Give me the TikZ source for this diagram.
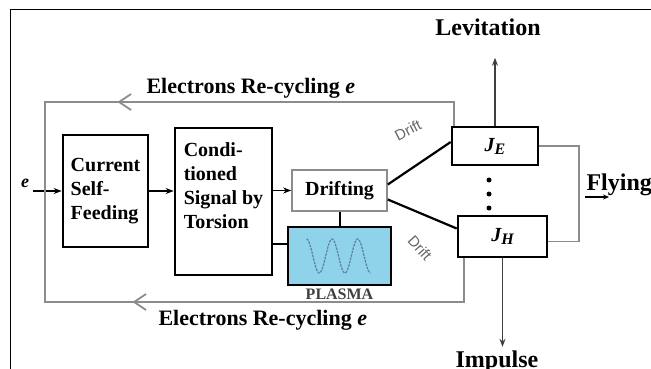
\documentclass[tikz,border=0pt]{standalone}
\usepackage{fontspec}
\setmainfont{Liberation Serif}
\setsansfont{Liberation Sans}
\usetikzlibrary{positioning, arrows.meta, calc, decorations.markings}
\definecolor{loopgray}{HTML}{8C8C8C}
\definecolor{plasmablue}{HTML}{8FD3EA}
\definecolor{wavegray}{HTML}{5F7F9F}

\begin{document}
\begin{tikzpicture}[x=1pt, y=-1pt, font=\fontsize{20}{24}\selectfont\bfseries, >={Stealth[length=8pt, width=6pt]}]

    % --- Stile ---
    \tikzset{
        block/.style={rectangle, draw=black, line width=2.6pt, align=left, inner sep=0pt},
        grayblock/.style={rectangle, draw=loopgray, line width=1.6pt, inner sep=0pt},
        plasmablock/.style={block, fill=plasmablue},
        jblock/.style={block, align=center},
        recycle/.style={draw=loopgray, line width=1.8pt},
        barb/.style={postaction={decorate, decoration={markings, mark=at position #1 with {\arrow{Straight Barb[length=12pt, width=16pt]}}}}},
        feed/.style={->, line width=1.6pt},
        drifttext/.style={font=\sffamily\mdseries\fontsize{15}{15}\selectfont, text=black!60},
        biglabel/.style={font=\fontsize{24}{28}\selectfont\bfseries},
        outarrow/.style={->, draw=darkgray, line width=1.3pt}
    }

    \useasboundingbox (0,0) rectangle (651,369);

    % --- Rahmen ---
    \draw[line width=0.8pt] (10,369) -- (10,9) -- (651,9);

    % --- Blöcke ---
    \node[block, minimum width=85pt, minimum height=112pt] (CS) at (105.5,191) {Current\\Self-\\Feeding};
    \node[block, minimum width=97pt, minimum height=147pt] (CT) at (223.5,201.5) {Condi-\\tioned\\Signal by\\Torsion\\[8pt]};
    \node[grayblock, minimum width=95pt, minimum height=41pt] (DR) at (339.5,190.5) {Drifting};
    \node[plasmablock, minimum width=103pt, minimum height=58pt] (PL) at (339.5,256) {};
    \node[font=\fontsize{16}{16}\selectfont\bfseries, text=black!75, anchor=north, inner sep=2pt] (PLT) at (PL.south) {PLASMA};
    \node[jblock, minimum width=86pt, minimum height=38pt] (JE) at (495,146) {\itshape J\raisebox{-3pt}{\fontsize{16}{16}\selectfont E}};
    \node[jblock, minimum width=89pt, minimum height=41pt] (JH) at (502.5,236.5) {\itshape J\raisebox{-3pt}{\fontsize{16}{16}\selectfont H}};

    % --- Welle im Plasma ---
    \draw[wavegray, line width=1.2pt, dash pattern=on 2.5pt off 1pt, shift={(PL.center)}]
        plot[domain=-33:31, samples=90] (\x, {-17*cos((\x+33)/25.6*360)});

    % --- Punkte zwischen J_E und J_H ---
    \foreach \y [count=\i] in {180,194,208}
        \node[circle, fill=black, inner sep=0pt, minimum size=5pt] (dot\i) at (489,\y) {};

    % --- Eingang e ---
    \node[font=\fontsize{18}{18}\selectfont\bfseries\itshape] (EIN) at (25,183) {e};
    \draw[feed] (EIN.east |- CS.west) -- (CS.west);
    \draw[feed] (CS.east) -- (CS.east -| CT.west);
    \draw[feed] (CT.east |- DR.west) -- (DR.west);

    % --- Plasma ---
    \coordinate (PLin) at ($(PL.west)+(0,-12)$);
    \draw[line width=2pt] (CT.east |- PLin) -- (PLin);
    \draw[line width=2pt] (DR.south) -- (PL.north);

    % --- Drift zu J_E und J_H ---
    \draw[line width=2.2pt] ($(DR.east)+(0,-6)$) -- ($(JE.west)+(0,-4)$);
    \draw[line width=2.2pt] ($(DR.east)+(0,9)$) -- ($(JH.west)+(0,-8)$);
    \node[drifttext, rotate=27] (D1) at (408,130) {Drift};
    \node[drifttext, rotate=-48] (D2) at (420,248) {Drift};

    % --- Electrons Re-cycling ---
    \coordinate (join) at (45,190);
    \coordinate (topL) at (45,102);
    \coordinate (botL) at (45,302);
    \draw[recycle, barb=360pt] ($(JE.north west)+(3,0)$) |- (topL) -- (join);
    \draw[recycle, barb=375pt] ($(JH.south west)+(7,0)$) |- (botL) -- (join);
    \node[font=\fontsize{22}{26}\selectfont\bfseries, anchor=base west] (ERt) at (143,93) {Electrons Re-cycling \textit{e}};
    \node[font=\fontsize{22}{26}\selectfont\bfseries, anchor=base west] (ERb) at (155,325) {Electrons Re-cycling \textit{e}};

    % --- Levitation ---
    \node[biglabel, anchor=base] (LEV) at (488,36) {Levitation};
    \coordinate (levtip) at ($(LEV.south)+(0,18)$);
    \draw[outarrow] (JE.north) -- (JE.north |- levtip);

    % --- Impulse ---
    \node[biglabel, anchor=base] (IMP) at (497,367) {Impulse};
    \draw[outarrow] (JH.south) -- (JH.south |- IMP.north);

    % --- Flying ---
    \coordinate (flyX) at (579,190);
    \draw[recycle] (JE.east) -| (flyX) |- ($(JH.east)+(0,5)$);
    \node[biglabel, anchor=base west] (FLY) at (583,190) {Flying};
    \coordinate (flyA) at ($(FLY.base west)+(2,7)$);
    \coordinate (flyB) at ($(flyA)+(24,0)$);
    \draw[-{Stealth[length=6pt, width=5pt]}, line width=1.2pt] (flyA) -- (flyB);

\end{tikzpicture}
\end{document}
